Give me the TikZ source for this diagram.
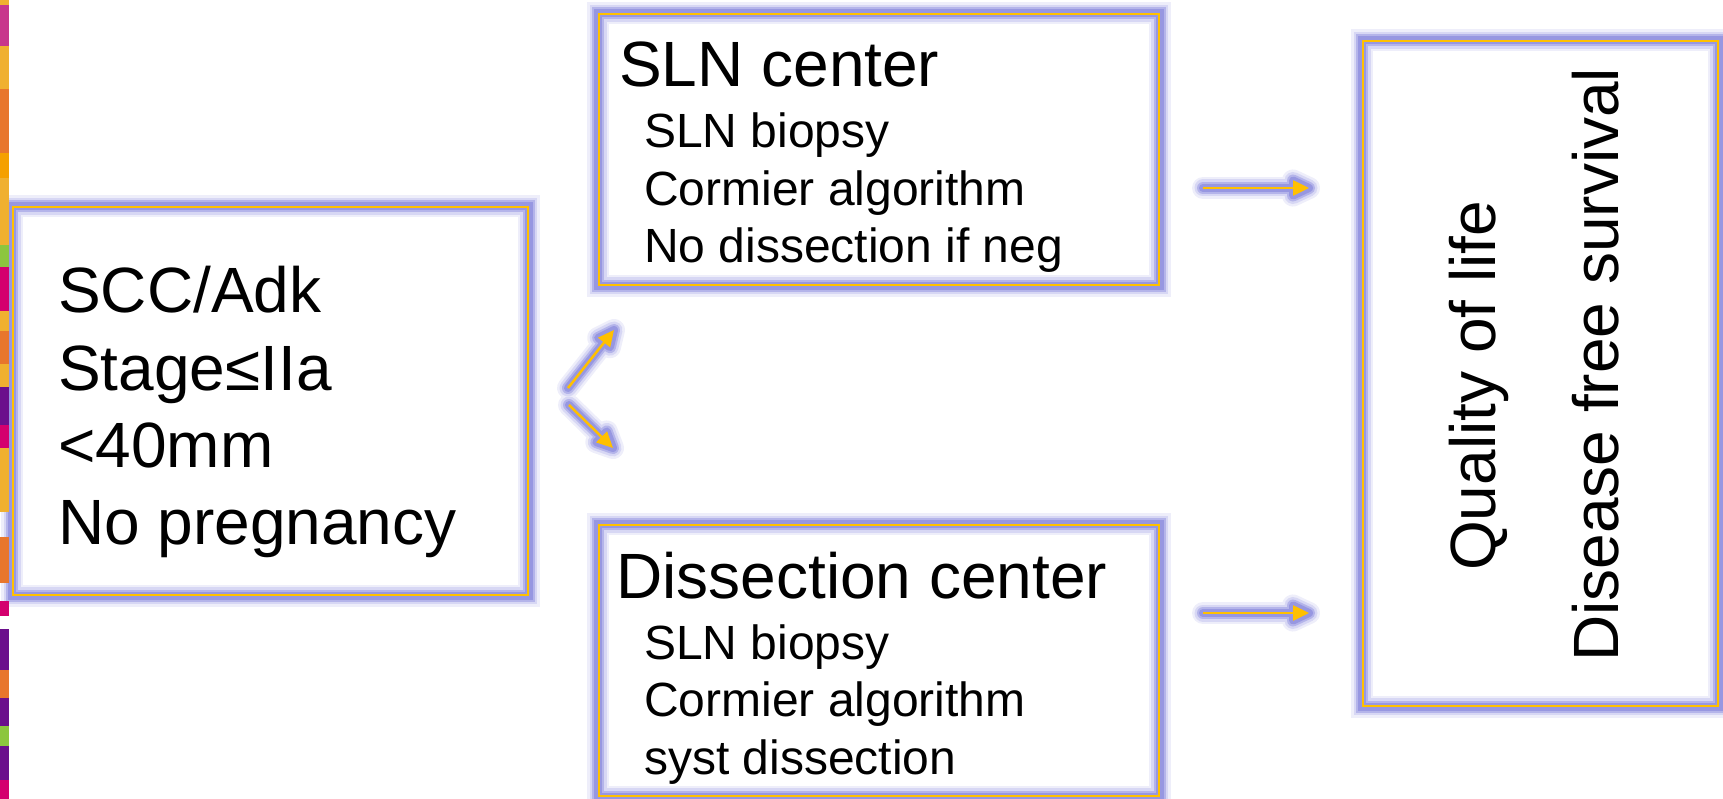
\documentclass[tikz,border=0pt]{standalone}
\usepackage{fontspec}
\setmainfont{Liberation Sans}
\usetikzlibrary{arrows.meta,calc,backgrounds}
\definecolor{gold}{HTML}{FFC000}
\definecolor{glow}{RGB}{140,140,222}
\definecolor{stpink}{HTML}{C8368C}
\definecolor{styel}{HTML}{F0B030}
\definecolor{storg}{HTML}{E8762D}
\definecolor{stamb}{HTML}{F5A000}
\definecolor{stgrn}{HTML}{8CC63E}
\definecolor{stmag}{HTML}{D4006E}
\definecolor{stpur}{HTML}{6B0F8C}
\begin{document}
\begin{tikzpicture}[x=1pt,y=-1pt,
    frame/.style={draw=gold,line width=1.8pt,inner sep=0pt},
    bigtext/.style={font=\fontsize{64}{77}\selectfont,inner sep=0pt,anchor=base west},
    smalltext/.style={font=\fontsize{48}{58}\selectfont,inner sep=0pt,anchor=base west},
    flow/.style={draw=gold,line width=2.5pt,-{Triangle[length=16pt,width=15pt]}}]
    \useasboundingbox (0,0) rectangle (1723,799);
    % boxes
    \node[frame,minimum width=515pt,minimum height=388pt] (crit) at (270.5,401) {};
    \node[frame,minimum width=560pt,minimum height=271pt] (slnc) at (879,149.5) {};
    \node[frame,minimum width=560pt,minimum height=271pt] (dissc) at (879,660.5) {};
    \node[frame,minimum width=355pt,minimum height=665pt] (outc) at (1540.5,373.5) {};
    \node[bigtext] (c1) at (58,313) {SCC/Adk};
    \node[bigtext] (c2) at (58,390) {Stage≤IIa};
    \node[bigtext] (c3) at (58,467) {<40mm};
    \node[bigtext] (c4) at (58,544) {No pregnancy};
    \node[bigtext] (s0) at (619,87) {SLN center};
    \node[smalltext] (s1) at (644,148) {SLN biopsy};
    \node[smalltext] (s2) at (644,205.5) {Cormier algorithm};
    \node[smalltext] (s3) at (644,263) {No dissection if neg};
    \node[bigtext] (d0) at (616,598) {Dissection center};
    \node[smalltext] (d1) at (644,659) {SLN biopsy};
    \node[smalltext] (d2) at (644,716.5) {Cormier algorithm};
    \node[smalltext] (d3) at (644,774) {syst dissection};
    \node[bigtext,rotate=90] (q1) at (1495,571) {Quality of life};
    \node[bigtext,rotate=90] (q2) at (1618,662) {Disease free survival};
    % arrows
    \coordinate (up0) at (568,388);   \coordinate (up1) at (614,330);
    \coordinate (dn0) at (569,405);   \coordinate (dn1) at (613,448);
    \coordinate (sl0) at (1203,188);  \coordinate (sl1) at (1309,188);
    \coordinate (ds0) at (1203,613);  \coordinate (ds1) at (1309,613);
    \draw[flow] (up0) -- (up1);
    \draw[flow] (dn0) -- (dn1);
    \draw[flow] (sl0) -- (sl1);
    \draw[flow] (ds0) -- (ds1);
    % soft glow behind everything
    \begin{pgfonlayer}{background}
    \foreach \w/\c in {22/15,17/35,12/65,8/90}{
        \foreach \b in {crit,slnc,dissc,outc}
            \draw[glow!\c,line width=\w pt] (\b.north west) rectangle (\b.south east);
        \foreach \s/\t in {up0/up1,dn0/dn1,sl0/sl1,ds0/ds1}{
            \draw[glow!\c,line width=\w pt,line cap=round] (\s) -- ($(\t)!14pt!(\s)$);
            \coordinate (hb) at ($(\t)!16pt!(\s)$);
            \filldraw[glow!\c,line width=\w pt,line join=round]
                (\t) -- ($(hb)!7.5pt!90:(\t)$) -- ($(hb)!7.5pt!-90:(\t)$) -- cycle;
        }
    }
    \end{pgfonlayer}
    % coloured strip on the left
    \foreach \a/\b/\c in {0/5/styel,5/46/stpink,46/89/styel,89/153/storg,153/178/stamb,
        178/245/styel,245/267/stgrn,267/311/stmag,311/331/styel,331/364/storg,
        364/387/styel,387/425/stpur,425/448/stmag,448/512/styel,537/583/storg,
        601/616/stmag,629/670/stpur,670/698/storg,698/726/stpur,726/746/stgrn,
        746/780/stpur,780/799/stmag}
        \fill[\c] (0,\a) rectangle (9,\b);
\end{tikzpicture}
\end{document}
